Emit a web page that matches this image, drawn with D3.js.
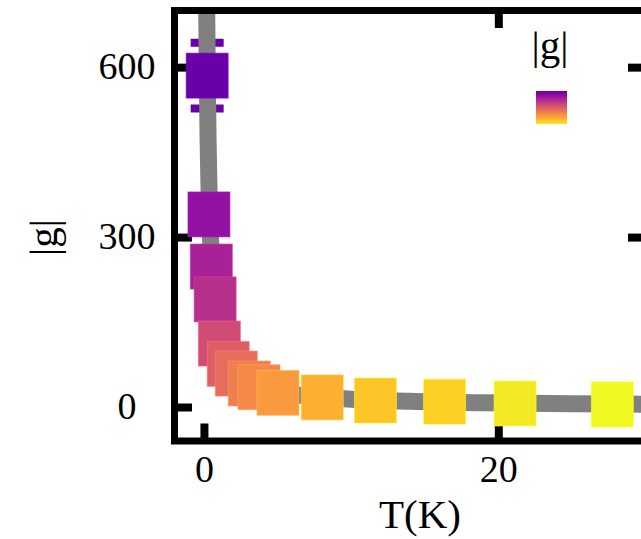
<!DOCTYPE html>
<html>
<head>
<meta charset="utf-8">
<script src="https://cdn.jsdelivr.net/npm/d3@7"></script>
<style>
  html, body { margin: 0; padding: 0; background: #fff; }
  svg { display: block; }
  text { font-family: "Liberation Serif", "Times New Roman", serif; }
</style>
</head>
<body>
<svg id="chart" width="641" height="539"></svg>
<script>
// Measured coupling |g| versus temperature
const temps  = [0.22, 0.34, 0.50, 0.76, 1.05, 1.65, 2.2, 3.08, 3.74, 5.03, 8.04, 11.65, 16.35, 21.14, 27.75];
const gVals  = [585, 340, 248, 190, 112, 76, 59, 41.5, 35, 25, 17, 11.5, 9.4, 6.2, 4.6];
const gErrs  = [58, 12, 9, 7, 5, 4, 3, 2.5, 2, 1.5, 1.2, 1, 0.8, 0.6, 0.5];

// Fitted trend line samples
const fitT = [0.19, 0.22, 0.28, 0.34, 0.44, 0.55, 0.70, 0.90, 1.2, 1.6, 2.2, 3.0, 4.0, 5.5, 7.5, 10, 14, 19, 25, 31];
const fitG = [700, 605, 475, 392, 303, 242, 190, 148, 111, 84, 61, 45, 34, 25, 18, 13.8, 10, 7.5, 5.8, 4.8];

// Axis ticks
const xTicks = [0, 20];
const yTicks = [0, 300, 600];

const svg = d3.select("#chart");
const pL = 174.5, pR = 645.5, pT = 10.5, pB = 441;
const FS = 38;   // tick labels
const LFS = 41;  // axis titles and legend

const x = d3.scaleLinear().domain([-2, 30]).range([pL, pR]);
const y = d3.scaleLinear().domain([-60, 700]).range([pB, pT]);

// colour parameter on the plasma map from |g|
const tScale = d3.scalePow().exponent(0.1)
  .domain([d3.max(gVals), d3.min(gVals)]).range([0.2, 1.0]);
const colorOf = g => d3.interpolatePlasma(tScale(g));

const TL = 17.5, TW = 8;

function styleAxis(g) {
  g.select(".domain").remove();
  g.selectAll(".tick line").attr("stroke", "#000").attr("stroke-width", TW);
}

// bottom axis
const gx = svg.append("g").attr("transform", `translate(0,${pB})`)
  .call(d3.axisBottom(x).tickValues(xTicks).tickSize(-TL).tickPadding(14).tickFormat(d3.format("d")));
styleAxis(gx);
gx.selectAll(".tick text").attr("font-size", FS).attr("fill", "#000")
  .style("font-family", "'Liberation Serif', serif");

// top axis (ticks only)
const gxt = svg.append("g").attr("transform", `translate(0,${pT})`)
  .call(d3.axisTop(x).tickValues(xTicks).tickSize(-TL).tickFormat(""));
styleAxis(gxt);

// left axis
const gy = svg.append("g").attr("transform", `translate(${pL},0)`)
  .call(d3.axisLeft(y).tickValues(yTicks).tickSize(-TL).tickFormat(d3.format("d")));
styleAxis(gy);
gy.selectAll(".tick text").attr("font-size", FS).attr("fill", "#000")
  .attr("x", -47.5).attr("text-anchor", "middle").attr("dy", "0.3em")
  .style("font-family", "'Liberation Serif', serif");

// right axis (ticks only)
const gyr = svg.append("g").attr("transform", `translate(${pR},0)`)
  .call(d3.axisRight(y).tickValues(yTicks).tickSize(-TL).tickFormat(""));
styleAxis(gyr);

// clip region for data
svg.append("clipPath").attr("id", "plotClip")
  .append("rect").attr("x", pL).attr("y", pT)
  .attr("width", pR - pL).attr("height", pB - pT);

const data = temps.map((t, i) => ({ t, g: gVals[i], e: gErrs[i] }));
const plot = svg.append("g").attr("clip-path", "url(#plotClip)");

// error bars
const capW = 33;
const eb = plot.append("g").selectAll("g").data(data).join("g")
  .attr("stroke", d => colorOf(d.g)).attr("stroke-width", TW);
eb.append("line")
  .attr("x1", d => x(d.t)).attr("x2", d => x(d.t))
  .attr("y1", d => y(d.g - d.e)).attr("y2", d => y(d.g + d.e));
eb.append("line")
  .attr("x1", d => x(d.t) - capW / 2).attr("x2", d => x(d.t) + capW / 2)
  .attr("y1", d => y(d.g + d.e)).attr("y2", d => y(d.g + d.e));
eb.append("line")
  .attr("x1", d => x(d.t) - capW / 2).attr("x2", d => x(d.t) + capW / 2)
  .attr("y1", d => y(d.g - d.e)).attr("y2", d => y(d.g - d.e));

// fit line
const fit = fitT.map((t, i) => [t, fitG[i]]);
plot.append("path")
  .datum(fit)
  .attr("fill", "none")
  .attr("stroke", "#808080")
  .attr("stroke-width", 17)
  .attr("d", d3.line().x(d => x(d[0])).y(d => y(d[1])).curve(d3.curveMonotoneX));

// square markers
const MW = 42, MH = 45;
plot.append("g").selectAll("rect").data(data).join("rect")
  .attr("x", d => x(d.t) - MW / 2)
  .attr("y", d => y(d.g) - MH / 2)
  .attr("width", MW).attr("height", MH)
  .attr("fill", d => colorOf(d.g))
  .attr("stroke", d => d3.color(colorOf(d.g)).brighter(0.6))
  .attr("stroke-opacity", 0.6)
  .attr("stroke-width", 1);

// frame
svg.append("rect")
  .attr("x", pL).attr("y", pT)
  .attr("width", pR - pL).attr("height", pB - pT)
  .attr("fill", "none").attr("stroke", "#000").attr("stroke-width", 7);

// axis titles
svg.append("text")
  .attr("x", 420).attr("y", 528)
  .attr("text-anchor", "middle").attr("font-size", LFS)
  .text("T(K)");
svg.append("text")
  .attr("transform", "translate(56.5,237.5) rotate(-90)")
  .attr("text-anchor", "middle").attr("font-size", LFS)
  .text("|g|");

// legend
const defs = svg.append("defs");
const grad = defs.append("linearGradient").attr("id", "legGrad")
  .attr("x1", 0).attr("y1", 0).attr("x2", 0).attr("y2", 1);
d3.range(0, 1.0001, 0.1).forEach(s => {
  grad.append("stop").attr("offset", s)
    .attr("stop-color", d3.interpolatePlasma(0.2 + 0.75 * s));
});
svg.append("text")
  .attr("x", 550).attr("y", 58.5)
  .attr("text-anchor", "middle").attr("font-size", LFS)
  .text("|g|");
svg.append("rect")
  .attr("x", 536).attr("y", 91).attr("width", 31).attr("height", 33)
  .attr("fill", "url(#legGrad)");
</script>
</body>
</html>
